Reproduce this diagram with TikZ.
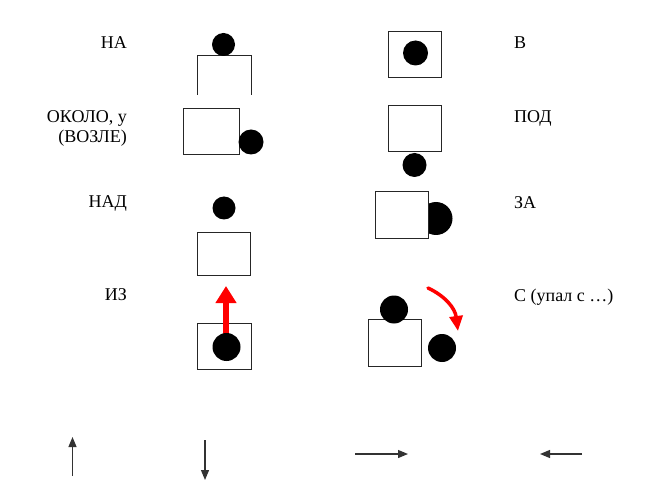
\documentclass[tikz,border=0pt]{standalone}
\usepackage{fontspec}
\setmainfont{Liberation Serif}
\usetikzlibrary{arrows.meta}
\begin{document}
\begin{tikzpicture}[x=1pt,y=-1pt,
  lbl/.style={font=\fontsize{18}{20}\selectfont, inner sep=0pt},
  lbll/.style={lbl, anchor=east},
  lblr/.style={lbl, anchor=west},
  box/.style={draw=black!85, line width=1pt, fill=white},
  ball/.style={fill=black},
  thin/.style={draw=black!80, line width=1.2pt, -{Triangle[length=10pt,width=8pt]}},
  redarrow/.style={draw=red, line width=5.5pt, -{Triangle[length=17pt,width=20pt]}}
]
\useasboundingbox (0,0) rectangle (650,494);
% left labels
\node[lbll] (tNA) at (127,43) {НА};
\node[lbll, align=right] (tOK) at (127,128) {ОКОЛО, у\\(ВОЗЛЕ)};
\node[lbll] (tNAD) at (127,203) {НАД};
\node[lbll] (tIZ) at (127,295) {ИЗ};
% right labels
\node[lblr] (tV) at (514,43) {В};
\node[lblr] (tPOD) at (514,118) {ПОД};
\node[lblr] (tZA) at (514,203) {ЗА};
\node[lblr] (tS) at (514,297) {С (упал с …)};

% НА
\draw[draw=black!85, line width=1pt] (197,95) -- (197,56) -- (251,56) -- (251,95);
\fill[ball] (223.5,44.5) circle (11.5);
% ОКОЛО
\draw[box] (183,109) rectangle (239,155);
\fill[ball] (251,142) circle (12.5);
% НАД
\fill[ball] (224,208) circle (11.5);
\draw[box] (197,233) rectangle (250,275);
% ИЗ
\draw[box] (197,323) rectangle (251,369);
\draw[redarrow] (226,336) -- (226,286);
\fill[ball] (226.5,347) circle (14);

% В
\draw[box] (388,32) rectangle (441,78);
\fill[ball] (415.5,53) circle (12.5);
% ПОД
\draw[box] (388,106) rectangle (441,152);
\fill[ball] (414.5,165) circle (12);
% ЗА
\fill[ball] (436,218.5) circle (16.5);
\draw[box] (375,192) rectangle (428,239);
% С
\draw[box] (368,319) rectangle (421,366);
\fill[ball] (394,309.5) circle (14);
\fill[ball] (442,348) circle (14);
\draw[draw=red, line width=3.5pt, line cap=round, -{Triangle[length=15pt,width=13pt]}]
  (428,288) .. controls (445,296) and (455,308) .. (458,331);

% bottom arrows
\coordinate (u1) at (72.5,476); \coordinate (u2) at (72.5,437);
\coordinate (d1) at (205,440); \coordinate (d2) at (205,480);
\coordinate (r1) at (355,454); \coordinate (r2) at (408,454);
\coordinate (l1) at (582,454); \coordinate (l2) at (540,454);
\draw[thin] (u1) -- (u2);
\draw[thin] (d1) -- (d2);
\draw[thin] (r1) -- (r2);
\draw[thin] (l1) -- (l2);
\end{tikzpicture}
\end{document}
